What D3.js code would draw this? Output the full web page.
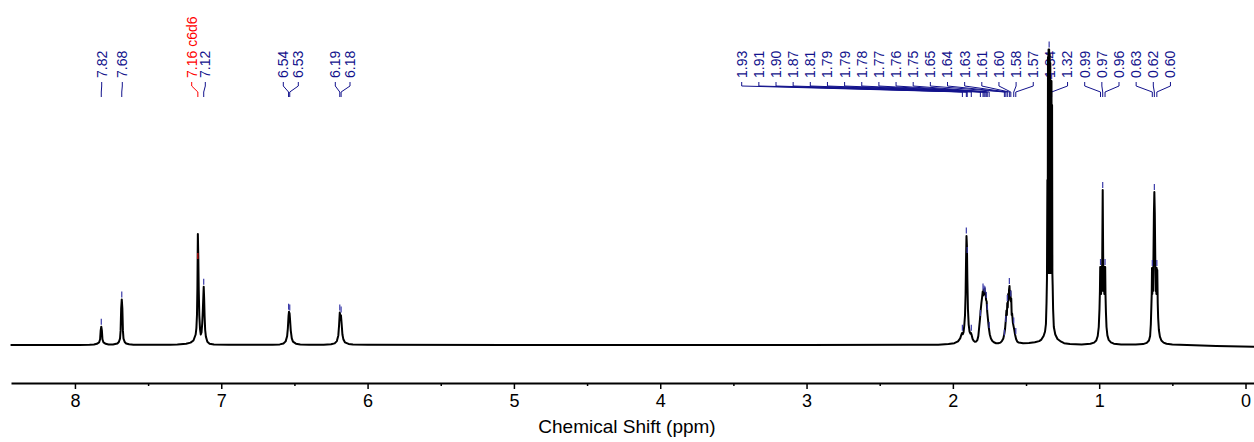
<!DOCTYPE html>
<html>
<head>
<meta charset="utf-8">
<script src="https://cdn.jsdelivr.net/npm/d3@7/dist/d3.min.js"></script>
<style>
  html, body { margin: 0; padding: 0; background: #fff; }
  svg { display: block; }
  text { font-family: "Liberation Sans", Arial, sans-serif; }
</style>
</head>
<body>
<svg id="chart" width="1254" height="442"></svg>
<script>
// ---------------- data ----------------
// spectrum trace: [chemical shift (ppm), intensity (arbitrary units)]
const spectrum = [
  [8.44, 0.0], [8.2, 0.0], [8.0, 0.02], [7.97, 0.03], [7.90, 0.06], [7.87, 0.15], [7.85, 0.4], [7.835, 0.85],
  [7.828, 1.9], [7.824, 4.9], [7.82, 6.1], [7.816, 4.9], [7.812, 1.9], [7.805, 0.85], [7.79, 0.4],
  [7.77, 0.18], [7.74, 0.2], [7.71, 0.5], [7.70, 1.0], [7.692, 2.1], [7.688, 4.7], [7.684, 12.2],
  [7.68, 15.2], [7.676, 12.2], [7.672, 4.7], [7.668, 2.1], [7.66, 1.0], [7.65, 0.5], [7.63, 0.25],
  [7.60, 0.12], [7.5, 0.05], [7.35, 0.1], [7.30, 0.15], [7.24, 0.4], [7.21, 0.8], [7.19, 1.5],
  [7.175, 3.5], [7.17, 5.6], [7.166, 10], [7.163, 19], [7.16, 37], [7.157, 29.5], [7.154, 18.5],
  [7.15, 9.8], [7.145, 5.2], [7.14, 3.5], [7.135, 4.2], [7.13, 7.2], [7.126, 11.5], [7.123, 15.5],
  [7.12, 19.4], [7.117, 15.5], [7.114, 9.7], [7.11, 5.0], [7.105, 2.8], [7.095, 1.1], [7.08, 0.45],
  [7.05, 0.15], [6.95, 0.05], [6.75, 0.05], [6.65, 0.08], [6.60, 0.2], [6.575, 0.5], [6.56, 1.2],
  [6.55, 2.9], [6.545, 5.5], [6.54, 9.8], [6.537, 11.1], [6.533, 10.5], [6.53, 8.5], [6.525, 4.8],
  [6.518, 2.2], [6.51, 1.1], [6.49, 0.45], [6.46, 0.2], [6.40, 0.08], [6.30, 0.1], [6.25, 0.25],
  [6.225, 0.55], [6.21, 1.3], [6.20, 3.2], [6.195, 6.5], [6.19, 10.8], [6.186, 9.6], [6.182, 9.9],
  [6.178, 7.5], [6.172, 3.5], [6.165, 1.8], [6.155, 0.9], [6.13, 0.35], [6.10, 0.15], [6.0, 0.06],
  [5.0, 0.0], [4.0, 0.0], [3.0, 0.0], [2.3, 0.05], [2.10, 0.1], [2.03, 0.3], [1.99, 0.6], [1.965, 1.2],
  [1.95, 2.2], [1.942, 3.4], [1.937, 4.0], [1.932, 3.6], [1.927, 4.3], [1.922, 6.5], [1.917, 10],
  [1.913, 17], [1.910, 28], [1.907, 36.3], [1.904, 33], [1.901, 22], [1.897, 12], [1.892, 6.8],
  [1.886, 4.5], [1.880, 3.8], [1.876, 4.0], [1.871, 3.2], [1.865, 2.0], [1.858, 1.4], [1.85, 1.1],
  [1.84, 1.2], [1.833, 1.6], [1.826, 3.0], [1.82, 6], [1.815, 8.5], [1.81, 11.5], [1.805, 14],
  [1.80, 16], [1.796, 17.8], [1.793, 16.5], [1.79, 18.5], [1.787, 17], [1.783, 18.8], [1.78, 16.8],
  [1.777, 17.5], [1.773, 15], [1.769, 14.5], [1.765, 11], [1.76, 8.5], [1.755, 6], [1.748, 3.6],
  [1.74, 2.2], [1.73, 1.3], [1.72, 0.9], [1.705, 0.6], [1.69, 0.6], [1.675, 0.8], [1.665, 1.3],
  [1.655, 2.2], [1.648, 3.8], [1.643, 5.5], [1.638, 8.5], [1.634, 11.5], [1.631, 10], [1.628, 14],
  [1.625, 12.5], [1.622, 17], [1.619, 15], [1.616, 18.5], [1.613, 19.7], [1.610, 16.5], [1.607, 18],
  [1.604, 14.5], [1.601, 15.5], [1.598, 10], [1.595, 10.5], [1.59, 7.5], [1.585, 6.2], [1.58, 5],
  [1.575, 3.5], [1.568, 2.0], [1.56, 1.1], [1.55, 0.8], [1.52, 0.6], [1.48, 0.7], [1.44, 0.9],
  [1.41, 1.3], [1.395, 1.8], [1.38, 3], [1.37, 4.5], [1.364, 7], [1.36, 14], [1.357, 22],
  [1.354, 55], [1.352, 24], [1.350, 96], [1.348, 24], [1.346, 98.5], [1.344, 24], [1.342, 98.5],
  [1.340, 24], [1.338, 97], [1.336, 24], [1.334, 94], [1.332, 24], [1.330, 88], [1.328, 24],
  [1.326, 88], [1.324, 24], [1.322, 80], [1.320, 24], [1.318, 20], [1.315, 12], [1.31, 6],
  [1.30, 3.5], [1.285, 2], [1.26, 1.1], [1.24, 0.6], [1.20, 0.3], [1.12, 0.2], [1.06, 0.4],
  [1.035, 0.8], [1.02, 1.5], [1.01, 3], [1.003, 6], [0.998, 12], [0.995, 18], [0.993, 26],
  [0.991, 17], [0.989, 26], [0.987, 17], [0.985, 25], [0.982, 18], [0.979, 30], [0.976, 51.7],
  [0.973, 30], [0.970, 18], [0.967, 25], [0.965, 17], [0.963, 26], [0.961, 17], [0.959, 26],
  [0.957, 17], [0.954, 11], [0.950, 6], [0.944, 3.2], [0.935, 1.7], [0.92, 0.9], [0.90, 0.45],
  [0.85, 0.2], [0.75, 0.15], [0.70, 0.3], [0.675, 0.7], [0.66, 1.5], [0.652, 3], [0.647, 7],
  [0.644, 12], [0.641, 17], [0.639, 25.7], [0.637, 17], [0.635, 25.5], [0.632, 18], [0.629, 30],
  [0.626, 44], [0.623, 51], [0.620, 44], [0.617, 30], [0.614, 18], [0.611, 25], [0.609, 17],
  [0.607, 25.7], [0.605, 17], [0.603, 25], [0.600, 14], [0.597, 9], [0.592, 5], [0.585, 2.8],
  [0.575, 1.5], [0.56, 0.8], [0.54, 0.4], [0.50, 0.15], [0.40, 0.0], [0.2, -0.3], [-0.06, -0.6]
];

// peak picking: label text, exact shift, picked intensity
const peakLabels = ["7.82", "7.68", "7.16 c6d6", "7.12", "6.54", "6.53", "6.19", "6.18",
  "1.93", "1.91", "1.90", "1.87", "1.81", "1.79", "1.79", "1.78", "1.77", "1.76", "1.75",
  "1.65", "1.64", "1.63", "1.61", "1.60", "1.58", "1.57", "1.34", "1.32",
  "0.99", "0.97", "0.96", "0.63", "0.62", "0.60"];
const peakShift = [7.820, 7.680, 7.160, 7.120, 6.540, 6.532, 6.190, 6.181,
  1.935, 1.908, 1.902, 1.874, 1.812, 1.794, 1.787, 1.780, 1.772, 1.765, 1.752,
  1.648, 1.638, 1.628, 1.614, 1.604, 1.584, 1.570, 1.342, 1.325,
  0.991, 0.976, 0.960, 0.637, 0.623, 0.606];
const peakHeight = [6.1, 15.2, 28, 19.4, 11.1, 10.8, 10.8, 10.2,
  4.1, 36.5, 30, 4.1, 9, 17.8, 17.2, 16.8, 15, 11, 5,
  2.5, 7, 14, 19.7, 15.5, 6.5, 3, 98.5, 88,
  26, 51.7, 26, 25.7, 51, 25.7];
const solventPeaks = ["7.16 c6d6"];

const xTicks = [8, 7, 6, 5, 4, 3, 2, 1, 0];
const xMinorTicks = [7.5, 6.5, 5.5, 4.5, 3.5, 2.5, 1.5, 0.5];
const xTitle = "Chemical Shift (ppm)";

// ---------------- layout ----------------
const axisY = 383;
const svg = d3.select("#chart");

const x = d3.scaleLinear().domain([8.437, -0.058]).range([11, 1254]);
const y = d3.scaleLinear().domain([0, 100]).range([345, 45]);

// label positions (screen layout for rotated peak labels)
const labelGroups = [
  { idx: [0], pos: [101.7] },
  { idx: [1], pos: [122.3] },
  { idx: [2, 3], pos: [191.7, 205.3] },
  { idx: [4, 5], pos: [283.3, 298.3] },
  { idx: [6, 7], pos: [335.3, 350.0] }
];
const groupStart = 741.7, groupStep = 17.15;
const labelX = new Array(peakLabels.length);
labelGroups.forEach(g => g.idx.forEach((k, j) => labelX[k] = g.pos[j]));
for (let k = 8; k < peakLabels.length; k++) labelX[k] = groupStart + (k - 8) * groupStep;

const navy = "#12128c";
const red = "#ff0000";
const textBottom = 78, legTop = 82, legBend1 = 86, legBend2 = 92, legBottom = 97;

const labelsG = svg.append("g");
peakLabels.forEach((lab, k) => {
  const col = solventPeaks.includes(lab) ? red : navy;
  const lx = labelX[k];
  const px = x(peakShift[k]);
  labelsG.append("text")
    .attr("transform", `translate(${lx},${textBottom}) rotate(-90)`)
    .attr("dy", "0.35em")
    .attr("text-anchor", "start")
    .attr("font-size", 14)
    .attr("fill", col)
    .text(lab);
  labelsG.append("path")
    .attr("d", `M${lx},${legTop}V${legBend1}L${px},${legBend2}V${legBottom}`)
    .attr("fill", "none")
    .attr("stroke", col)
    .attr("stroke-width", 1);
});

// spectrum
const line = d3.line().x(d => x(d[0])).y(d => y(d[1]));
svg.append("path")
  .datum(spectrum)
  .attr("d", line)
  .attr("fill", "none")
  .attr("stroke", "#000")
  .attr("stroke-width", 2)
  .attr("stroke-linejoin", "round");

// peak markers
peakLabels.forEach((lab, k) => {
  const col = solventPeaks.includes(lab) ? "#d01010" : "#3a3aa8";
  const px = x(peakShift[k]);
  const py = y(peakHeight[k]);
  svg.append("line")
    .attr("x1", px).attr("x2", px)
    .attr("y1", py - 2).attr("y2", py - 8)
    .attr("stroke", col)
    .attr("stroke-width", 1.2);
});

// x axis
const axis = d3.axisBottom(x).tickValues(xTicks).tickFormat(d3.format("d"))
  .tickSize(6).tickSizeOuter(0).tickPadding(5);
const axG = svg.append("g").attr("transform", `translate(0,${axisY})`).call(axis);
axG.select(".domain").attr("stroke", "#000").attr("stroke-width", 2);
axG.selectAll(".tick line").attr("stroke", "#000").attr("stroke-width", 1.5);
axG.selectAll(".tick text").attr("font-size", 18).attr("fill", "#000")
  .attr("font-family", "Liberation Sans, Arial, sans-serif");

const minorAxis = d3.axisBottom(x).tickValues(xMinorTicks).tickFormat("").tickSize(3).tickSizeOuter(0);
const mG = svg.append("g").attr("transform", `translate(0,${axisY})`).call(minorAxis);
mG.select(".domain").remove();
mG.selectAll(".tick line").attr("stroke", "#000").attr("stroke-width", 1.5);

svg.append("text")
  .attr("x", 627).attr("y", 433)
  .attr("text-anchor", "middle")
  .attr("font-size", 19)
  .attr("fill", "#000")
  .text(xTitle);
</script>
</body>
</html>
